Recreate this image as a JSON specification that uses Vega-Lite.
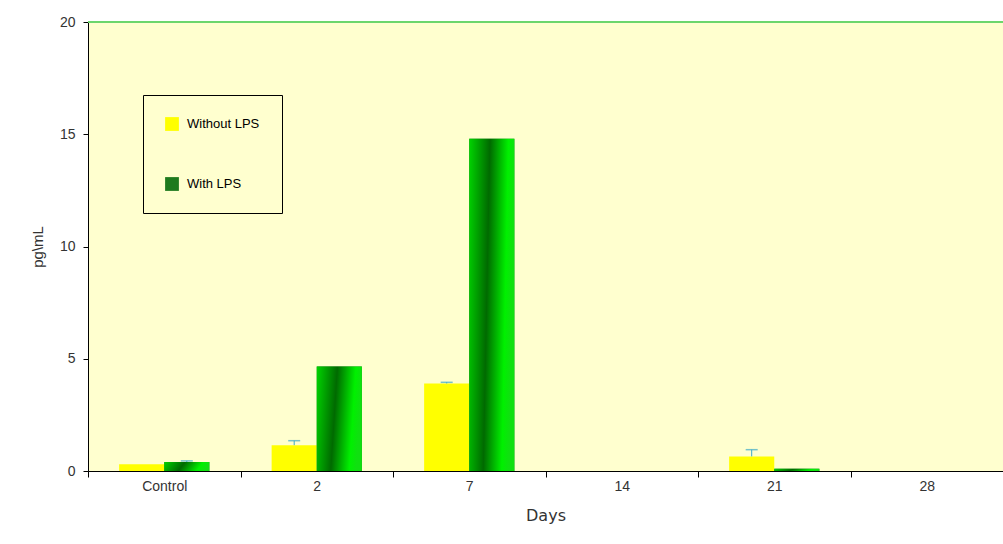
{
  "$schema": "https://vega.github.io/schema/vega-lite/v6.json",
  "width": 915,
  "height": 449,
  "autosize": "none",
  "padding": {"left": 88, "top": 22, "right": 0, "bottom": 73},
  "background": "white",
  "config": {
    "view": {"fill": "#FFFFCF", "stroke": null},
    "font": "Liberation Sans",
    "axis": {"labelColor": "#333", "titleColor": "#333", "domainColor": "black", "tickColor": "black", "grid": false, "titleFontWeight": "normal"}
  },
  "data": {
    "values": [
      {"day": "Control", "group": "Without LPS", "value": 0.3, "upper": null},
      {"day": "Control", "group": "With LPS", "value": 0.4, "upper": 0.45},
      {"day": "2", "group": "Without LPS", "value": 1.15, "upper": 1.35},
      {"day": "2", "group": "With LPS", "value": 4.65, "upper": null},
      {"day": "7", "group": "Without LPS", "value": 3.9, "upper": 3.95},
      {"day": "7", "group": "With LPS", "value": 14.8, "upper": null},
      {"day": "14", "group": "Without LPS", "value": 0, "upper": null},
      {"day": "14", "group": "With LPS", "value": 0, "upper": null},
      {"day": "21", "group": "Without LPS", "value": 0.65, "upper": 0.95},
      {"day": "21", "group": "With LPS", "value": 0.1, "upper": null},
      {"day": "28", "group": "Without LPS", "value": 0, "upper": null},
      {"day": "28", "group": "With LPS", "value": 0, "upper": null}
    ]
  },
  "layer": [
    {
      "encoding": {
        "x": {
          "field": "day", "type": "nominal",
          "sort": ["Control", "2", "7", "14", "21", "28"],
          "scale": {"paddingInner": 0, "paddingOuter": 0},
          "axis": {"title": "Days", "labelAngle": 0, "labelFontSize": 14, "labelPadding": 2, "tickBand": "extent", "tickSize": 6, "titleFontSize": 16, "titlePadding": 14, "titleFont": "DejaVu Sans"}
        },
        "xOffset": {"field": "group", "type": "nominal", "sort": ["Without LPS", "With LPS"], "scale": {"paddingInner": 0, "paddingOuter": 0.69}}
      },
      "layer": [
        {
          "mark": {"type": "bar"},
          "encoding": {
            "y": {
              "field": "value", "type": "quantitative",
              "scale": {"domain": [0, 20]},
              "axis": {"title": "pg\\mL", "values": [0, 5, 10, 15, 20], "labelFontSize": 14, "labelPadding": 8, "tickSize": 5, "titleFontSize": 15, "titlePadding": 14}
            },
            "color": {
              "field": "group", "type": "nominal",
              "sort": ["Without LPS", "With LPS"],
              "scale": {"domain": ["Without LPS", "With LPS"], "range": ["#FFFF00", "#1E7A1E"]},
              "legend": {
                "title": null, "orient": "none", "legendX": 55, "legendY": 73,
                "symbolType": "square", "symbolSize": 190, "symbolStrokeWidth": 0, "symbolOpacity": 1,
                "labelFontSize": 13, "labelColor": "black", "labelOffset": 8,
                "rowPadding": 46, "padding": 22, "strokeColor": "black"
              }
            }
          }
        },
        {
          "transform": [{"filter": "datum.group == 'With LPS'"}],
          "mark": {
            "type": "bar",
            "fill": {
              "gradient": "linear", "x1": 0, "y1": 0, "x2": 1, "y2": 0.15,
              "stops": [
                {"offset": 0, "color": "#00D400"},
                {"offset": 0.45, "color": "#006A00"},
                {"offset": 0.85, "color": "#00F000"},
                {"offset": 1, "color": "#10E010"}
              ]
            }
          },
          "encoding": {"y": {"field": "value", "type": "quantitative"}}
        },
        {
          "transform": [{"filter": "datum.upper != null"}],
          "mark": {"type": "rule", "color": "#3AA8C8", "strokeWidth": 1},
          "encoding": {"y": {"field": "value", "type": "quantitative"}, "y2": {"field": "upper"}}
        },
        {
          "transform": [{"filter": "datum.upper != null"}],
          "mark": {"type": "tick", "color": "#3AA8C8", "thickness": 1.5, "size": 12},
          "encoding": {"y": {"field": "upper", "type": "quantitative"}}
        }
      ]
    },
    {
      "mark": {"type": "rule", "color": "#6CD66C", "strokeWidth": 2},
      "encoding": {"y": {"datum": 20, "type": "quantitative"}}
    }
  ]
}
